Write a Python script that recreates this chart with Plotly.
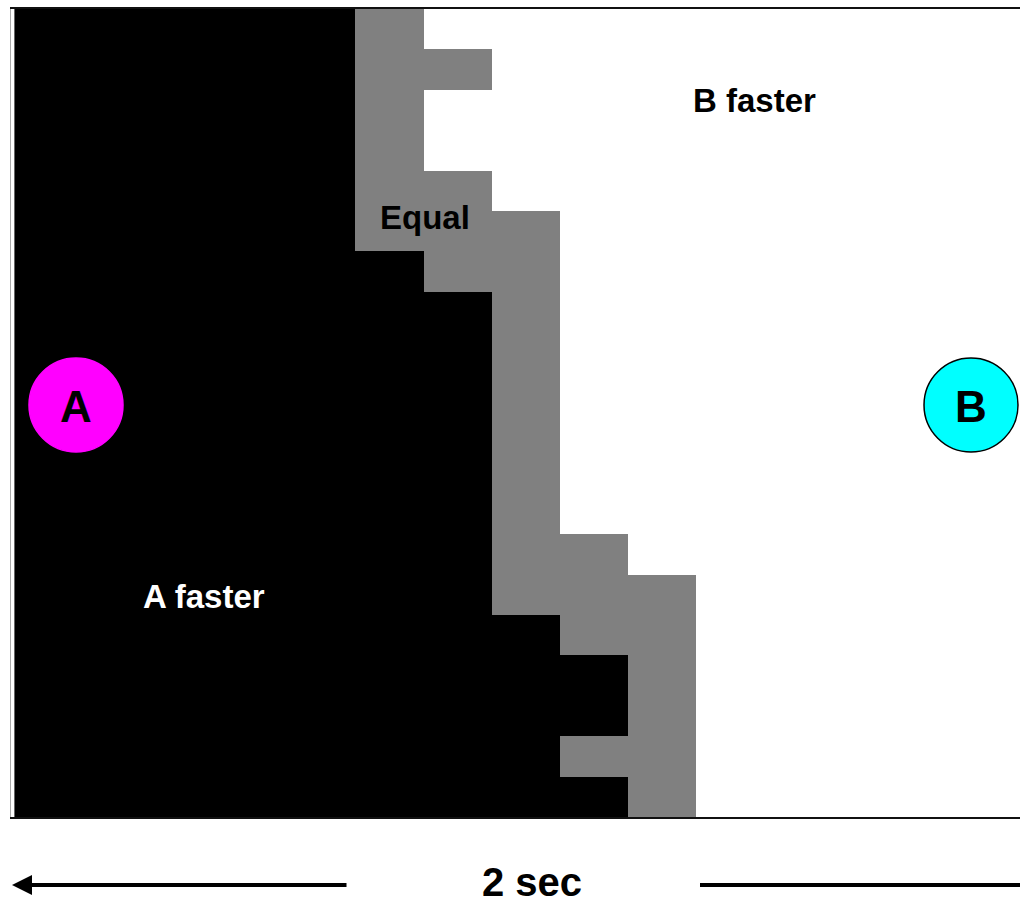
import plotly.graph_objects as go

# outcome of each cell: A = A faster, E = equal, B = B faster
outcome_codes = ["A", "E", "B"]
outcome_labels = ["A faster", "Equal", "B faster"]
outcome_colors = ["#000000", "#808080", "#ffffff"]

grid_rows = [
    "AAAAAEBBBBBBBBB",
    "AAAAAEEBBBBBBBB",
    "AAAAAEBBBBBBBBB",
    "AAAAAEBBBBBBBBB",
    "AAAAAEEBBBBBBBB",
    "AAAAAEEEBBBBBBB",
    "AAAAAAEEBBBBBBB",
    "AAAAAAAEBBBBBBB",
    "AAAAAAAEBBBBBBB",
    "AAAAAAAEBBBBBBB",
    "AAAAAAAEBBBBBBB",
    "AAAAAAAEBBBBBBB",
    "AAAAAAAEBBBBBBB",
    "AAAAAAAEEBBBBBB",
    "AAAAAAAEEEBBBBB",
    "AAAAAAAAEEBBBBB",
    "AAAAAAAAAEBBBBB",
    "AAAAAAAAAEBBBBB",
    "AAAAAAAAEEBBBBB",
    "AAAAAAAAAEBBBBB",
]

z = [[outcome_codes.index(c) for c in row] for row in grid_rows]
n = len(outcome_colors) - 1
colorscale = [[i / n, col] for i, col in enumerate(outcome_colors)]

fig = go.Figure(go.Heatmap(
    z=z,
    zmin=0, zmax=n,
    colorscale=colorscale,
    showscale=False,
    hoverinfo="skip",
))

W, H = 1020, 907
L, R, T = 11, 0, 9
ph = 808
B = H - T - ph
pw = W - L - R


def px(x):
    return (x - L) / pw


def py(y):
    return (T + ph - y) / ph


fig.update_layout(
    width=W, height=H,
    margin=dict(l=L, r=R, t=T, b=B),
    paper_bgcolor="white",
    plot_bgcolor="white",
    showlegend=False,
    xaxis=dict(range=[-0.55, 14.25], showticklabels=False, ticks="",
               showgrid=False, zeroline=False,
               showline=True, mirror=True, linecolor="#111", linewidth=2),
    yaxis=dict(range=[19.5, -0.5], showticklabels=False, ticks="",
               showgrid=False, zeroline=False,
               showline=True, linecolor="#aaa", linewidth=1),
)

font = "Liberation Sans, Arial, sans-serif"
# region labels
label_pos = [(204, 596, "white"), (425, 217, "black"), (754, 101, "black")]
for label, (x, y, col) in zip(outcome_labels, label_pos):
    fig.add_annotation(x=px(x), y=py(y), xref="paper", yref="paper",
                       xanchor="center", yanchor="middle",
                       text="<b>%s</b>" % label, showarrow=False,
                       font=dict(family=font, size=33, color=col))

# A / B markers
for name, cx, fill, edge in [("A", 76, "#ff00ff", "#ff00ff"), ("B", 971, "#00ffff", "black")]:
    fig.add_shape(type="circle", xref="paper", yref="paper",
                  xsizemode="pixel", ysizemode="pixel",
                  xanchor=px(cx), yanchor=py(405),
                  x0=-47, x1=47, y0=-47, y1=47,
                  fillcolor=fill, line=dict(color=edge, width=1.5))
    fig.add_annotation(x=px(cx), y=py(406), xref="paper", yref="paper",
                       xanchor="center", yanchor="middle",
                       text="<b>%s</b>" % name, showarrow=False,
                       font=dict(family=font, size=44, color="black"))

# time scale
fig.add_annotation(x=px(12), y=py(885), xref="paper", yref="paper",
                   ax=336, ay=0, text="", showarrow=True,
                   arrowhead=2, arrowsize=1, arrowwidth=4, arrowcolor="black")
fig.add_shape(type="line", xref="paper", yref="paper",
              x0=px(700), x1=px(1020), y0=py(885), y1=py(885),
              line=dict(color="black", width=4))
fig.add_annotation(x=px(532), y=py(906), xref="paper", yref="paper",
                   xanchor="center", yanchor="bottom",
                   text="<b>2 sec</b>", showarrow=False,
                   font=dict(family=font, size=40, color="black"))

# drop the default page margin so the figure fills the window
fig.write_html("out.html", config={"displayModeBar": False},
               post_script="document.body.style.margin = '0';")
